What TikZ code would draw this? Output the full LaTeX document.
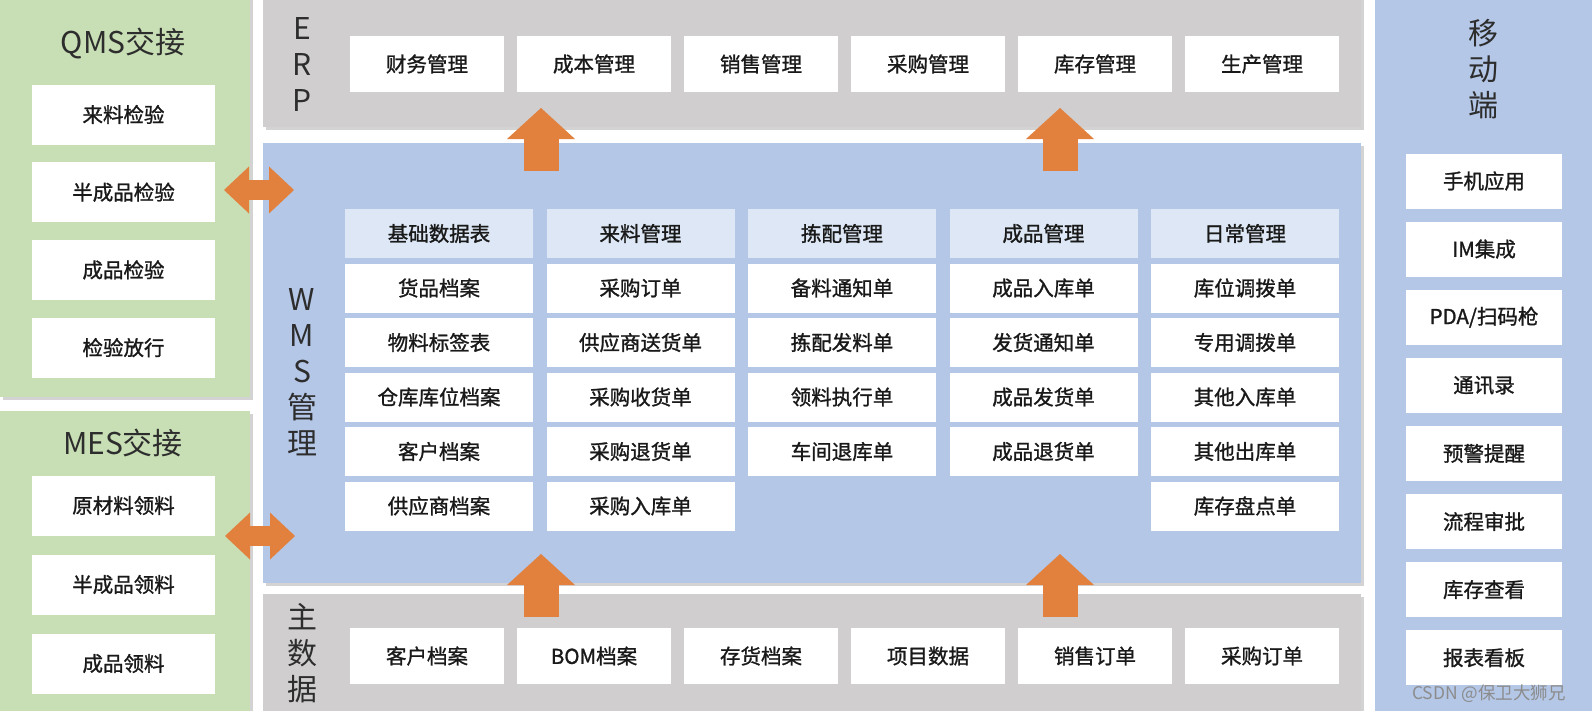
\documentclass[tikz,border=0pt]{standalone}
\usepackage{fontspec}
\setmainfont{Noto Sans CJK SC}
\newfontfamily\cellfont{Noto Sans CJK SC}[FakeBold=1.2]
\usetikzlibrary{arrows.meta,shadows}
\definecolor{qmsgreen}{RGB}{200,223,181}
\definecolor{erpgray}{RGB}{208,206,206}
\definecolor{wmsblue}{RGB}{180,199,231}
\definecolor{headblue}{RGB}{221,231,245}
\definecolor{arroworange}{RGB}{226,128,62}
\definecolor{titlegray}{RGB}{45,45,45}

\begin{document}
\begin{tikzpicture}[x=1pt, y=-1pt,
    panel/.style={inner sep=0pt, drop shadow={shadow xshift=3pt, shadow yshift=-3pt, opacity=0.35}},
    title/.style={inner sep=0pt, align=center, text=titlegray, font=\fontsize{30}{36}\selectfont},
    cell/.style={fill=white, inner sep=0pt, text=black!90, font=\cellfont\fontsize{20.5}{24}\selectfont},
    sidebox/.style={cell, minimum width=183pt, minimum height=60pt, node distance=77.7pt},
    erpbox/.style={cell, minimum width=154pt, minimum height=55.5pt, node distance=167pt},
    headbox/.style={cell, fill=headblue, minimum width=188pt, minimum height=48.5pt, node distance=201.5pt},
    rowbox/.style={cell, minimum width=188pt, minimum height=49pt, node distance=54.5pt},
    mobbox/.style={cell, minimum width=156pt, minimum height=55pt, node distance=68.1pt},
    bigup/.style={draw=arroworange, line width=35pt, -{Triangle[width=68pt, length=31pt, line width=0pt]}},
    bothway/.style={draw=arroworange, line width=20pt, {Triangle[width=47pt, length=25pt, line width=0pt]}-{Triangle[width=47pt, length=25pt, line width=0pt]}}]
    \useasboundingbox (0,0) rectangle (1592,710);

    \node[panel, fill=qmsgreen, minimum width=250pt, minimum height=402pt] (qms) at (125,196) {};
    \node[panel, fill=qmsgreen, minimum width=250pt, minimum height=310pt] (mes) at (125,566) {};
    \node[panel, fill=erpgray, minimum width=1098pt, minimum height=137pt] (erp) at (812,58.5) {};
    \node[panel, fill=wmsblue, minimum width=1098pt, minimum height=440pt] (wms) at (812,363) {};
    \node[panel, fill=erpgray, minimum width=1098pt, minimum height=126pt] (master) at (812,657) {};
    \node[inner sep=0pt, fill=wmsblue, minimum width=222pt, minimum height=720pt] (mobile) at (1486,355) {};

    \node[title] (qmstitle) at (123,44) {QMS交接};
    \node[title] (mestitle) at (123,443) {MES交接};
    \node[title] (erptitle) at (302,65) {E\\R\\P};
    \node[title] (wmstitle) at (302,372) {W\\M\\S\\管\\理};
    \node[title] (mastertitle) at (302,653) {主\\数\\据};
    \node[title] (mobiletitle) at (1483,69) {移\\动\\端};

    \node[sidebox] (q1) at (123.5,114.5) {来料检验};
    \node[sidebox, below of=q1] (q2) {半成品检验};
    \node[sidebox, below of=q2] (q3) {成品检验};
    \node[sidebox, below of=q3] (q4) {检验放行};

    \node[sidebox] (m1) at (123.5,505.5) {原材料领料};
    \node[sidebox, node distance=79pt, below of=m1] (m2) {半成品领料};
    \node[sidebox, node distance=79pt, below of=m2] (m3) {成品领料};

    \node[erpbox] (e1) at (427,64) {财务管理};
    \node[erpbox, right of=e1] (e2) {成本管理};
    \node[erpbox, right of=e2] (e3) {销售管理};
    \node[erpbox, right of=e3] (e4) {采购管理};
    \node[erpbox, right of=e4] (e5) {库存管理};
    \node[erpbox, right of=e5] (e6) {生产管理};

    \node[erpbox] (d1) at (427,656) {客户档案};
    \node[erpbox, right of=d1] (d2) {BOM档案};
    \node[erpbox, right of=d2] (d3) {存货档案};
    \node[erpbox, right of=d3] (d4) {项目数据};
    \node[erpbox, right of=d4] (d5) {销售订单};
    \node[erpbox, right of=d5] (d6) {采购订单};

    \node[headbox] (base) at (439,233.5) {基础数据表};
    \node[headbox, right of=base] (incoming) {来料管理};
    \node[headbox, right of=incoming] (picking) {拣配管理};
    \node[headbox, right of=picking] (product) {成品管理};
    \node[headbox, right of=product] (daily) {日常管理};

    \node[rowbox, below of=base] (base1) {货品档案};
    \node[rowbox, below of=base1] (base2) {物料标签表};
    \node[rowbox, below of=base2] (base3) {仓库库位档案};
    \node[rowbox, below of=base3] (base4) {客户档案};
    \node[rowbox, below of=base4] (base5) {供应商档案};

    \node[rowbox, below of=incoming] (inc1) {采购订单};
    \node[rowbox, below of=inc1] (inc2) {供应商送货单};
    \node[rowbox, below of=inc2] (inc3) {采购收货单};
    \node[rowbox, below of=inc3] (inc4) {采购退货单};
    \node[rowbox, below of=inc4] (inc5) {采购入库单};

    \node[rowbox, below of=picking] (pick1) {备料通知单};
    \node[rowbox, below of=pick1] (pick2) {拣配发料单};
    \node[rowbox, below of=pick2] (pick3) {领料执行单};
    \node[rowbox, below of=pick3] (pick4) {车间退库单};

    \node[rowbox, below of=product] (prod1) {成品入库单};
    \node[rowbox, below of=prod1] (prod2) {发货通知单};
    \node[rowbox, below of=prod2] (prod3) {成品发货单};
    \node[rowbox, below of=prod3] (prod4) {成品退货单};

    \node[rowbox, below of=daily] (daily1) {库位调拨单};
    \node[rowbox, below of=daily1] (daily2) {专用调拨单};
    \node[rowbox, below of=daily2] (daily3) {其他入库单};
    \node[rowbox, below of=daily3] (daily4) {其他出库单};
    \node[rowbox, below of=daily4] (daily5) {库存盘点单};

    \node[mobbox] (mob1) at (1484,181) {手机应用};
    \node[mobbox, below of=mob1] (mob2) {IM集成};
    \node[mobbox, below of=mob2] (mob3) {PDA/扫码枪};
    \node[mobbox, below of=mob3] (mob4) {通讯录};
    \node[mobbox, below of=mob4] (mob5) {预警提醒};
    \node[mobbox, below of=mob5] (mob6) {流程审批};
    \node[mobbox, below of=mob6] (mob7) {库存查看};
    \node[mobbox, below of=mob7] (mob8) {报表看板};

    \node[inner sep=0pt, text=black!45, font=\fontsize{17.5}{20}\selectfont] (mark) at (1489,694) {CSDN @保卫大狮兄};

    \coordinate (wmsout1) at (541,171);
    \coordinate (erpin1) at (541,108);
    \coordinate (wmsout2) at (1060,171);
    \coordinate (erpin2) at (1060,108);
    \coordinate (masterout1) at (541,617);
    \coordinate (wmsin1) at (541,554);
    \coordinate (masterout2) at (1060,617);
    \coordinate (wmsin2) at (1060,554);
    \coordinate (qmsend) at (224,190);
    \coordinate (qmswms) at (294,190);
    \coordinate (mesend) at (225,536);
    \coordinate (meswms) at (295,536);

    \draw[bigup] (wmsout1) -- (erpin1);
    \draw[bigup] (wmsout2) -- (erpin2);
    \draw[bigup] (masterout1) -- (wmsin1);
    \draw[bigup] (masterout2) -- (wmsin2);
    \draw[bothway] (qmsend) -- (qmswms);
    \draw[bothway] (mesend) -- (meswms);
\end{tikzpicture}
\end{document}
